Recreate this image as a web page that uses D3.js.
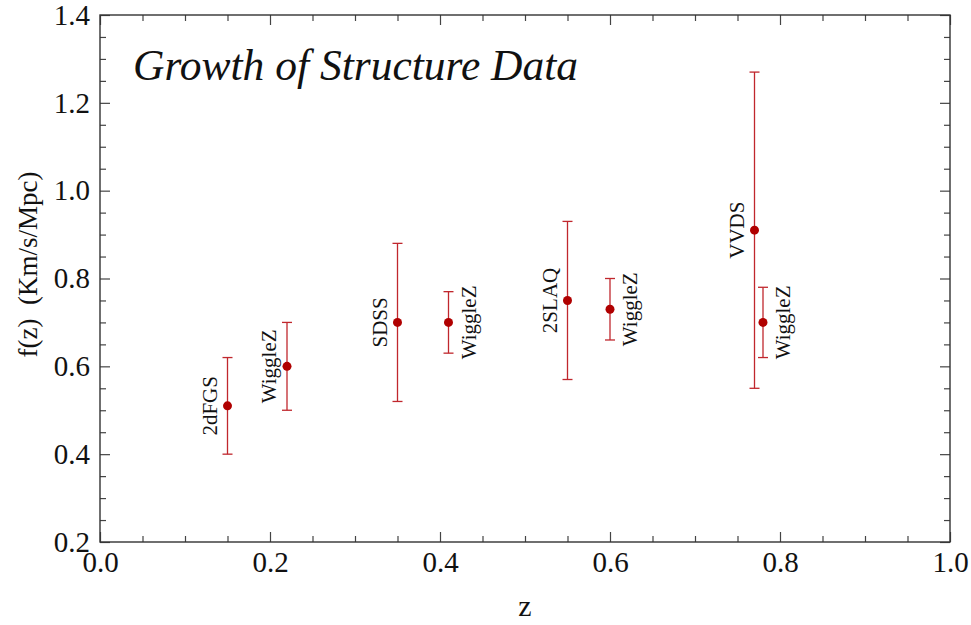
<!DOCTYPE html>
<html>
<head>
<meta charset="utf-8">
<script src="https://cdn.jsdelivr.net/npm/d3@7"></script>
<style>
  body { margin: 0; background: #fff; }
  svg text { font-family: "Liberation Serif", "Times New Roman", serif; }
</style>
</head>
<body>
<div class="chart"></div>
<script>
// chart size and plot frame
const width = 971;
const height = 625;
const margin = {top: 15, left: 100, right: 21, bottom: 83};

// data
const surveys = ["2dFGS", "WiggleZ", "SDSS", "WiggleZ", "2SLAQ", "WiggleZ", "VVDS", "WiggleZ"];
const zValues = [0.15, 0.22, 0.35, 0.41, 0.55, 0.60, 0.77, 0.78];
const fValues = [0.51, 0.60, 0.70, 0.70, 0.75, 0.73, 0.91, 0.70];
const fLow    = [0.40, 0.50, 0.52, 0.63, 0.57, 0.66, 0.55, 0.62];
const fHigh   = [0.62, 0.70, 0.88, 0.77, 0.93, 0.80, 1.27, 0.78];
const labelSide = ["left", "left", "left", "right", "left", "right", "left", "right"];

const xMajor = [0.0, 0.2, 0.4, 0.6, 0.8, 1.0];
const yMajor = [0.2, 0.4, 0.6, 0.8, 1.0, 1.2, 1.4];
const xMinor = [0.05, 0.1, 0.15, 0.25, 0.3, 0.35, 0.45, 0.5, 0.55, 0.65, 0.7, 0.75, 0.85, 0.9, 0.95];
const yMinor = [0.25, 0.3, 0.35, 0.45, 0.5, 0.55, 0.65, 0.7, 0.75, 0.85, 0.9, 0.95,
                1.05, 1.1, 1.15, 1.25, 1.3, 1.35];

const data = surveys.map((s, i) => ({
  name: s, z: zValues[i], f: fValues[i], lo: fLow[i], hi: fHigh[i], side: labelSide[i]
}));

const x0 = margin.left, x1 = width - margin.right;
const y0 = height - margin.bottom, y1 = margin.top;

const xScale = d3.scaleLinear().domain([0, 1]).range([x0, x1]);
const yScale = d3.scaleLinear().domain([0.2, 1.4]).range([y0, y1]);

const svg = d3.select('.chart')
  .append('svg')
  .attr('width', width)
  .attr('height', height);

const serif = '"Liberation Serif", "Times New Roman", serif';
const fmt = d3.format(".1f");
const tickColor = "#444";

// helper to draw one set of ticks
function drawAxis(axis, transform, showLabels) {
  const g = svg.append('g')
    .attr('transform', transform)
    .call(axis)
    .attr('font-family', serif);
  g.select('.domain').remove();
  g.selectAll('.tick line').attr('stroke', tickColor).attr('stroke-width', 1.2);
  if (showLabels) {
    g.selectAll('.tick text')
      .attr('font-size', 29)
      .attr('fill', '#111');
  } else {
    g.selectAll('.tick text').remove();
  }
  return g;
}

// bottom + top
drawAxis(d3.axisBottom(xScale).tickValues(xMajor).tickSize(-10).tickPadding(9).tickFormat(fmt),
  `translate(0,${y0})`, true);
drawAxis(d3.axisBottom(xScale).tickValues(xMinor).tickSize(-6).tickFormat(""),
  `translate(0,${y0})`, false);
drawAxis(d3.axisTop(xScale).tickValues(xMajor).tickSize(-10).tickFormat(""),
  `translate(0,${y1})`, false);
drawAxis(d3.axisTop(xScale).tickValues(xMinor).tickSize(-6).tickFormat(""),
  `translate(0,${y1})`, false);

// left + right
drawAxis(d3.axisLeft(yScale).tickValues(yMajor).tickSize(-10).tickPadding(10).tickFormat(fmt),
  `translate(${x0},0)`, true);
drawAxis(d3.axisLeft(yScale).tickValues(yMinor).tickSize(-6).tickFormat(""),
  `translate(${x0},0)`, false);
drawAxis(d3.axisRight(yScale).tickValues(yMajor).tickSize(-10).tickFormat(""),
  `translate(${x1},0)`, false);
drawAxis(d3.axisRight(yScale).tickValues(yMinor).tickSize(-6).tickFormat(""),
  `translate(${x1},0)`, false);

// frame
svg.append('rect')
  .attr('x', x0)
  .attr('y', y1)
  .attr('width', x1 - x0)
  .attr('height', y0 - y1)
  .attr('fill', 'none')
  .attr('stroke', '#333')
  .attr('stroke-width', 1.4);

// error bars
const barColor = '#c0272d';
const bars = svg.append('g');
bars.selectAll('.err')
  .data(data)
  .enter()
  .append('line')
  .attr('x1', d => xScale(d.z))
  .attr('x2', d => xScale(d.z))
  .attr('y1', d => yScale(d.lo))
  .attr('y2', d => yScale(d.hi))
  .attr('stroke', barColor)
  .attr('stroke-width', 1.3);

bars.selectAll('.capLo')
  .data(data)
  .enter()
  .append('line')
  .attr('x1', d => xScale(d.z) - 5)
  .attr('x2', d => xScale(d.z) + 5)
  .attr('y1', d => yScale(d.lo))
  .attr('y2', d => yScale(d.lo))
  .attr('stroke', barColor)
  .attr('stroke-width', 1.3);

bars.selectAll('.capHi')
  .data(data)
  .enter()
  .append('line')
  .attr('x1', d => xScale(d.z) - 5)
  .attr('x2', d => xScale(d.z) + 5)
  .attr('y1', d => yScale(d.hi))
  .attr('y2', d => yScale(d.hi))
  .attr('stroke', barColor)
  .attr('stroke-width', 1.3);

// points
svg.selectAll('.dot')
  .data(data)
  .enter()
  .append('circle')
  .attr('cx', d => xScale(d.z))
  .attr('cy', d => yScale(d.f))
  .attr('r', 4.5)
  .attr('fill', '#b00000');

// survey labels, rotated
svg.selectAll('.lbl')
  .data(data)
  .enter()
  .append('text')
  .attr('transform', d => {
    const px = xScale(d.z) + (d.side === 'left' ? -11 : 27);
    return `translate(${px},${yScale(d.f)}) rotate(-90)`;
  })
  .attr('text-anchor', 'middle')
  .attr('font-size', 21)
  .attr('fill', '#111')
  .text(d => d.name);

// title
svg.append('text')
  .attr('x', 133)
  .attr('y', 80)
  .text('Growth of Structure Data')
  .attr('font-style', 'italic')
  .attr('font-size', 43.5)
  .attr('fill', '#111');

// axis labels
svg.append('text')
  .attr('x', (x0 + x1) / 2)
  .attr('y', 616)
  .attr('text-anchor', 'middle')
  .attr('font-size', 30)
  .attr('fill', '#111')
  .text('z');

svg.append('text')
  .attr('transform', `translate(37,${(y0 + y1) / 2 - 14}) rotate(-90)`)
  .attr('text-anchor', 'middle')
  .attr('font-size', 27)
  .attr('fill', '#111')
  .style('white-space', 'pre')
  .text('f(z)  (Km/s/Mpc)');
</script>
</body>
</html>
